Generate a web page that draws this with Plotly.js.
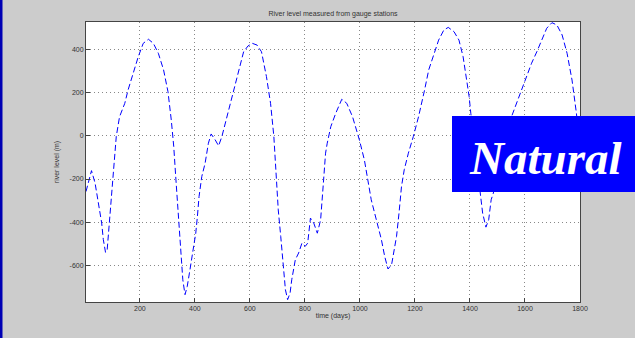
<!DOCTYPE html>
<html>
<head>
<meta charset="utf-8">
<script src="https://cdn.plot.ly/plotly-3.0.1.min.js"></script>
<style>
html,body{margin:0;padding:0;background:#cccccc;}
#chart{width:635px;height:338px;}
</style>
</head>
<body>
<div id="chart"></div>
<script>
const days = [4,24,37,53,61,67,75,81,86,96,105,114,126,145,157,175,194,212,231,249,267,286,302,314,323,331,341,350,356,364,372,380,
  390,403,409,415,425,437,449,459,474,486,498,513,528,544,560,577,593,609,626,642,660,675,687,695,703,712,722,729,737,746,
  752,765,777,789,801,810,820,832,845,857,867,875,881,894,912,934,952,973,998,1016,1041,1059,1078,1090,1102,1115,
  1121,1133,1142,1151,1161,1176,1194,1213,1235,1250,1268,1286,1305,1321,1342,1360,1375,1387,1397,1403,1415,1425,1436,1446,1458,1468,1477,
  1485,1500,1520,1535,1551,1569,1587,1606,1624,1643,1661,1679,1698,1716,1735,1753,1771,1787,1800];
const level = [-258,-161,-219,-343,-404,-481,-540,-528,-451,-281,-127,-3,89,151,213,290,367,429,448,429,383,306,205,74,-49,-204,-374,-543,-667,-736,-698,-636,
  -559,-451,-374,-281,-188,-127,-34,9,-19,-46,-3,74,151,228,313,390,417,429,421,390,275,151,-3,-204,-343,-466,-605,-713,-759,-728,
  -667,-574,-543,-497,-512,-497,-381,-404,-451,-389,-219,-80,-34,43,105,170,151,89,-19,-111,-296,-389,-481,-559,-617,-597,
  -559,-466,-358,-235,-157,-80,-3,89,213,306,375,444,491,503,483,444,367,275,182,105,-20,-140,-258,-358,-423,-389,-296,
  -265,-170,-60,20,89,151,213,275,337,390,444,499,525,514,468,383,259,105,-60];
const xTicks = [200,400,600,800,1000,1200,1400,1600,1800];
const yTicks = [-600,-400,-200,0,200,400];

const L=86, R=580, T=22, B=302, W=635, H=338;
const pw = R-L, ph = B-T;
const px = v => (v-L)/pw;
const py = v => (B-v)/ph;
const txt = {family:'Liberation Sans, Arial, sans-serif', size:7, color:'#333333'};

const axisCommon = {
  showline:true, linecolor:'#444', linewidth:1, mirror:true,
  ticks:'inside', ticklen:4, tickcolor:'#444', tickwidth:1,
  showgrid:true, gridcolor:'#888', gridwidth:1, griddash:'1px,3px',
  zeroline:false, tickfont:txt
};

Plotly.newPlot('chart', [{
  x: days, y: level, type:'scatter', mode:'lines',
  line:{color:'#0000ff', width:1, dash:'6px,3px'},
  hoverinfo:'skip'
}], {
  width:W, height:H,
  margin:{l:L, r:W-R, t:T, b:H-B, pad:0},
  paper_bgcolor:'#cccccc', plot_bgcolor:'#ffffff',
  showlegend:false,
  title:{text:'River level measured from gauge stations', font:txt, x:0.5, xref:'paper', y:1-14/H, yanchor:'middle'},
  xaxis:Object.assign({}, axisCommon, {range:[4,1800], tickvals:xTicks, ticktext:xTicks.map(String),
    title:{text:'time (days)', font:txt, standoff:1}}),
  yaxis:Object.assign({}, axisCommon, {range:[-770,528], tickvals:yTicks, ticktext:yTicks.map(String),
    title:{text:'river level (m)', font:txt, standoff:9}}),
  shapes:[
    {type:'rect', xref:'paper', yref:'paper', x0:px(452), x1:px(640), y0:py(192), y1:py(116),
     fillcolor:'#0000ff', line:{width:0}, layer:'above'},
    {type:'rect', xref:'paper', yref:'paper', x0:px(-2), x1:px(2.5), y0:py(H+2), y1:py(-2),
     fillcolor:'#0000b4', line:{width:0}, layer:'above'}
  ],
  annotations:[
    {text:'<b><i>Natural</i></b>', xref:'paper', yref:'paper', x:px(545), y:py(158),
     xanchor:'center', yanchor:'middle', showarrow:false,
     font:{family:'Liberation Serif, Times New Roman, serif', size:47, color:'#ffffff'}}
  ]
}, {displayModeBar:false, staticPlot:true});
</script>
</body>
</html>
